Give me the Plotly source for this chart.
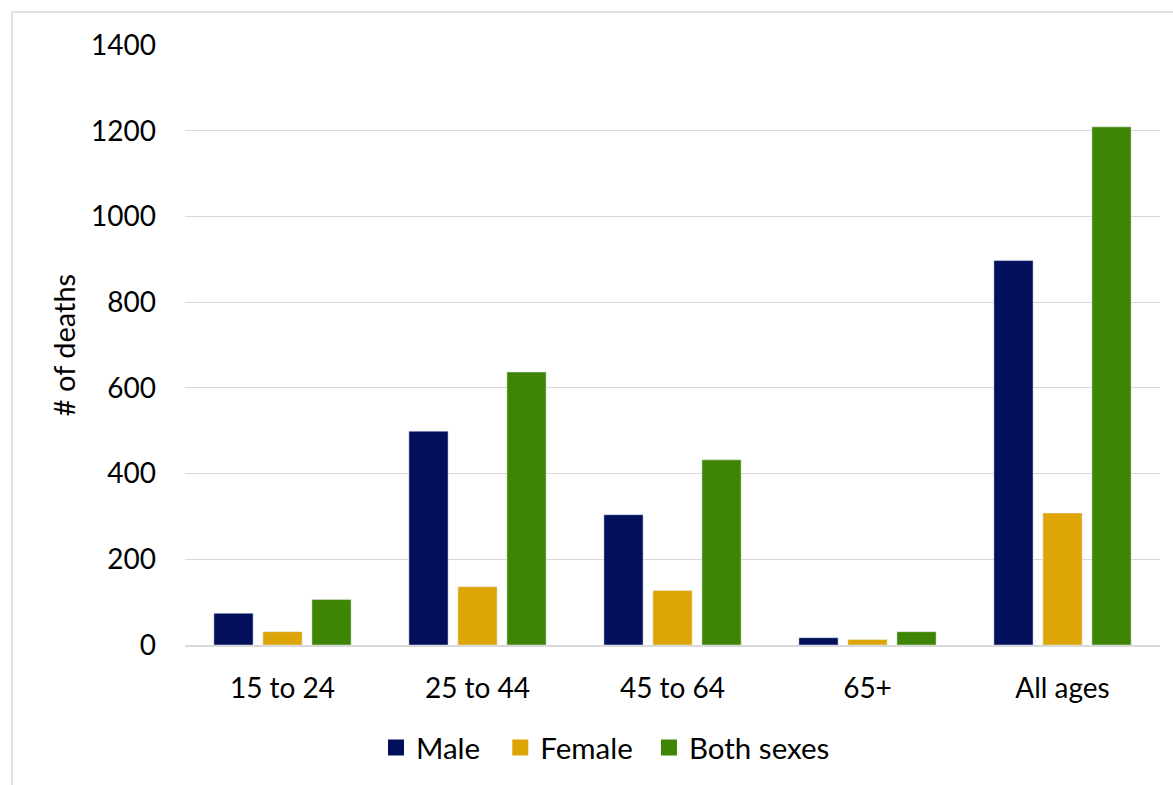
import plotly.graph_objects as go

categories = ["15 to 24", "25 to 44", "45 to 64", "65+", "All ages"]
male = [74, 499, 304, 17, 897]
female = [31, 136, 127, 13, 308]
both = [106, 637, 432, 31, 1209]
y_ticks = [0, 200, 400, 600, 800, 1000, 1200, 1400]
series_names = ["Male", "Female", "Both sexes"]
legend_pad = ["\u00a0\u00a0", "\u00a0\u2009", ""]
colors = ["#020F5A", "#DDA505", "#3E8504"]

FONT = "Lato"
fig = go.Figure()
for name, vals, col in zip(series_names, [male, female, both], colors):
    fig.add_trace(go.Bar(name=name, x=categories, y=vals, marker_color=col,
                         showlegend=False))
# legend entries with larger square swatches
for name, pad, col in zip(series_names, legend_pad, colors):
    fig.add_trace(go.Scatter(name=name + pad, x=[None], y=[None], mode="markers",
                             marker=dict(symbol="square", size=17, color=col,
                                         line=dict(width=0)),
                             showlegend=True, hoverinfo="skip"))

fig.update_layout(
    width=1173, height=785,
    margin=dict(l=185, r=13, t=45, b=139.5, autoexpand=False),
    paper_bgcolor="white", plot_bgcolor="white",
    barmode="group", bargap=0.246, bargroupgap=0.2,
    font=dict(family=FONT, size=28, color="black"),
    legend=dict(orientation="h", x=(388 - 185 - 12) / 975, xanchor="left",
                y=-0.128, yanchor="top", font=dict(size=29.5), itemwidth=30,
                traceorder="normal", bgcolor="rgba(0,0,0,0)"),
    xaxis=dict(showgrid=False, showline=True, linecolor="#D9D9D9", linewidth=2,
               ticks="", tickfont=dict(size=28), ticklabelstandoff=17),
    yaxis=dict(range=[0, 1400], tickvals=y_ticks, showgrid=True, gridcolor="#D9D9D9",
               gridwidth=1.3, zeroline=False, ticks="", tickfont=dict(size=28),
               ticklabelstandoff=28,
               title=dict(text="# of deaths", font=dict(size=29), standoff=6)),
    shapes=[dict(type="rect", xref="paper", yref="paper",
                 x0=(12 - 185) / 975, x1=(1200 - 185) / 975,
                 y0=-(820 - 645.5) / 600.5, y1=1 + (45 - 12) / 600.5,
                 line=dict(color="#D9D9D9", width=1.5), layer="below")],
)

fig.write_html("out.html", config={"displayModeBar": False},
               post_script="document.body.style.margin='0';")
